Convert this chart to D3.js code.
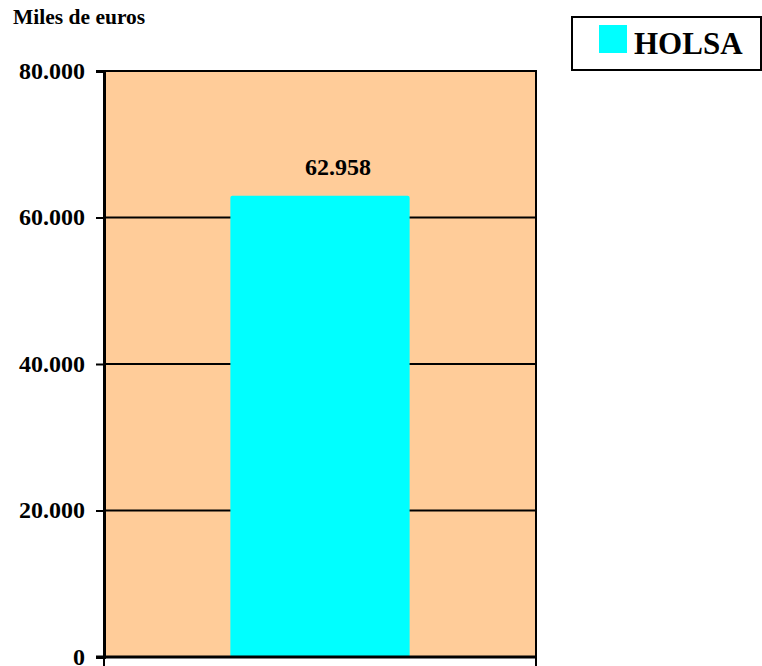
<!DOCTYPE html>
<html><head><meta charset="utf-8">
<script src="https://cdn.jsdelivr.net/npm/d3@7/dist/d3.min.js"></script>
<style>html,body{margin:0;padding:0;background:#fff;}svg{display:block;}</style>
</head><body>
<script>
const categories = ["HOLSA"];
const values = [62958];
const yTicks = [0, 20000, 40000, 60000, 80000];
const yTickLabels = ["0", "20.000", "40.000", "60.000", "80.000"];
const valueLabels = ["62.958"];
const unitLabel = "Miles de euros";

const W = 762, H = 666;
const m = {left: 104, top: 71, right: 762 - 536, bottom: 666 - 657};
const font = "'Liberation Serif','Times New Roman',serif";

const svg = d3.select("body").append("svg").attr("width", W).attr("height", H);

const x = d3.scaleBand().domain(categories).range([m.left, W - m.right]).paddingInner(0).paddingOuter(0.705);
const y = d3.scaleLinear().domain([0, 80000]).range([H - m.bottom, m.top]);

// plot background
svg.append("rect").attr("x", m.left).attr("y", m.top)
  .attr("width", W - m.right - m.left).attr("height", H - m.bottom - m.top)
  .attr("fill", "#FFCC99");

// gridlines
svg.append("g").selectAll("line").data(yTicks.filter(d => d > 0 && d < 80000)).join("line")
  .attr("x1", m.left).attr("x2", W - m.right)
  .attr("y1", d => y(d)).attr("y2", d => y(d))
  .attr("stroke", "#000").attr("stroke-width", 2);

// bars
svg.append("g").selectAll("rect").data(values).join("rect")
  .attr("x", (d, i) => x(categories[i]))
  .attr("y", d => y(d))
  .attr("width", x.bandwidth())
  .attr("height", d => y(0) - y(d))
  .attr("rx", 2)
  .attr("fill", "#00FFFF");

// value labels
svg.append("g").selectAll("text").data(values).join("text")
  .attr("x", (d, i) => x(categories[i]) + x.bandwidth() / 2 + 18)
  .attr("y", d => y(d) - 21)
  .attr("text-anchor", "middle")
  .attr("font-family", font).attr("font-weight", "bold").attr("font-size", 24)
  .text((d, i) => valueLabels[i]);

// border top/right
svg.append("path")
  .attr("d", `M${m.left},${m.top}H${W - m.right}V${H - m.bottom}`)
  .attr("fill", "none").attr("stroke", "#000").attr("stroke-width", 2);

// y axis
const yAxis = d3.axisLeft(y).tickValues(yTicks).tickSize(8).tickPadding(11)
  .tickFormat((d, i) => yTickLabels[i]);
const gy = svg.append("g").attr("transform", `translate(${m.left},0)`).call(yAxis);
gy.select(".domain").attr("stroke", "#000").attr("stroke-width", 3);
gy.selectAll(".tick line").attr("stroke", "#000").attr("stroke-width", 2);
gy.selectAll(".tick text").attr("font-family", font).attr("font-weight", "bold")
  .attr("font-size", 24).attr("fill", "#000").attr("dy", "0.3em");

// x axis
const gx = svg.append("g").attr("transform", `translate(0,${H - m.bottom})`);
gx.append("line").attr("x1", m.left - 8).attr("x2", W - m.right + 1)
  .attr("stroke", "#000").attr("stroke-width", 3);
gx.selectAll("line.t").data([m.left, W - m.right]).join("line").attr("class", "t")
  .attr("x1", d => d).attr("x2", d => d).attr("y1", 0).attr("y2", 9)
  .attr("stroke", "#000").attr("stroke-width", 2);

// unit label
svg.append("text").attr("x", 13).attr("y", 24)
  .attr("font-family", font).attr("font-weight", "bold").attr("font-size", 21.5)
  .text(unitLabel);

// legend
const lg = svg.append("g");
lg.append("rect").attr("x", 572).attr("y", 17).attr("width", 189).attr("height", 53)
  .attr("fill", "#fff").attr("stroke", "#000").attr("stroke-width", 2);
lg.selectAll("rect.sw").data(categories).join("rect").attr("class", "sw")
  .attr("x", 599).attr("y", 25).attr("width", 28).attr("height", 28).attr("fill", "#00FFFF");
lg.selectAll("text").data(categories).join("text")
  .attr("x", 634).attr("y", 54)
  .attr("font-family", font).attr("font-weight", "bold").attr("font-size", 31)
  .text(d => d);
</script>
</body></html>
